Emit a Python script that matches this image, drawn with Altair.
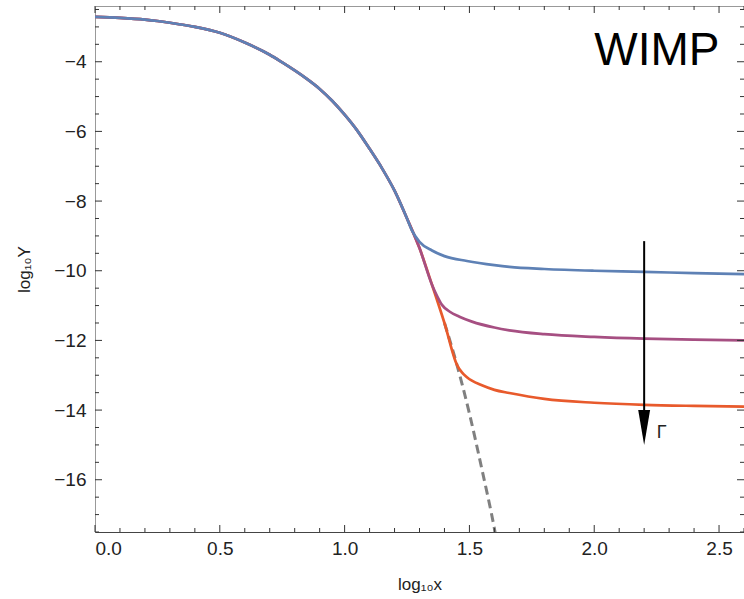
import altair as alt
import pandas as pd

# shared equilibrium part
eq_x = [0.0, 0.1, 0.2, 0.25, 0.3, 0.4, 0.5, 0.6, 0.7, 0.75, 0.8, 0.85, 0.9, 0.95,
        1.0, 1.05, 1.1, 1.15, 1.2, 1.25, 1.3, 1.35, 1.4, 1.45, 1.5, 1.55, 1.6, 1.62]
eq_y = [-2.71, -2.74, -2.79, -2.83, -2.88, -3.0, -3.17, -3.45, -3.8, -4.02, -4.25, -4.5,
        -4.78, -5.12, -5.52, -5.97, -6.5, -7.06, -7.7, -8.5, -9.35, -10.4, -11.5, -12.7,
        -14.1, -15.7, -17.4, -18.2]

# freeze-out tails
blue_x = [1.27, 1.3, 1.35, 1.4, 1.49, 1.6, 1.66, 1.8, 2.0, 2.2, 2.4, 2.6]
blue_y = [-8.85, -9.17, -9.42, -9.58, -9.72, -9.84, -9.89, -9.95, -10.0, -10.03, -10.07, -10.1]
mag_x = [1.37, 1.39, 1.42, 1.46, 1.51, 1.6, 1.66, 1.8, 2.0, 2.2, 2.4, 2.6]
mag_y = [-10.72, -10.98, -11.17, -11.32, -11.46, -11.63, -11.71, -11.82, -11.9, -11.95, -11.98, -12.0]
red_x = [1.47, 1.49, 1.55, 1.6, 1.66, 1.8, 2.0, 2.2, 2.4, 2.6]
red_y = [-12.92, -13.06, -13.29, -13.42, -13.51, -13.68, -13.79, -13.85, -13.88, -13.9]

series = ["blue", "magenta", "red"]
colors = ["#5e81b5", "#a64f82", "#e85a2c"]
cut = {"blue": 1.25, "magenta": 1.35, "red": 1.45}
tails = {"blue": (blue_x, blue_y), "magenta": (mag_x, mag_y), "red": (red_x, red_y)}

def series_df(s):
    rows = []
    for x, y in zip(eq_x, eq_y):
        if x <= cut[s]:
            rows.append({"s": s, "x": x, "y": y})
    for x, y in zip(*tails[s]):
        rows.append({"s": s, "x": x, "y": y})
    return pd.DataFrame(rows)

dash_df = pd.DataFrame({"x": [x for x in eq_x if x >= 1.4],
                        "y": [y for x, y in zip(eq_x, eq_y) if x >= 1.4]})

W, H = 649, 526
xdom = [0, 2.6]
ydom = [-17.5, -2.4]
xs = alt.Scale(domain=xdom, nice=False, zero=False)
ys = alt.Scale(domain=ydom, nice=False, zero=False)

xmaj = [0.0, 0.5, 1.0, 1.5, 2.0, 2.5]
xmin = [round(i * 0.1, 1) for i in range(27) if i % 5 != 0]
ymaj = [-16, -14, -12, -10, -8, -6, -4]
ymin = [v / 2 for v in range(-35, -4) if v % 4 != 0]

base_axes = alt.Chart(pd.DataFrame({"x": [0.0], "y": [-10.0]})).mark_point(opacity=0).encode(
    x=alt.X("x:Q", scale=xs, title="log₁₀x",
            axis=alt.Axis(values=xmaj, format=".1f", ticks=False, tickSize=0, grid=False,
                          labelPadding=7, titlePadding=18, domainColor="#444")),
    y=alt.Y("y:Q", scale=ys, title="log₁₀Y",
            axis=alt.Axis(values=ymaj, format="d", ticks=False, tickSize=0, grid=False,
                          labelPadding=9, titlePadding=20, domainColor="#999")),
)

def xticks(vals, length):
    d = pd.DataFrame({"x": vals})
    b = alt.Chart(d).mark_rule(color="#333", strokeWidth=1)
    bot = b.encode(x=alt.X("x:Q", scale=xs), y=alt.value(H), y2=alt.value(H - length))
    top = b.encode(x=alt.X("x:Q", scale=xs), y=alt.value(0), y2=alt.value(length))
    return bot + top

def yticks(vals, length):
    d = pd.DataFrame({"y": vals})
    b = alt.Chart(d).mark_rule(color="#333", strokeWidth=1)
    left = b.encode(y=alt.Y("y:Q", scale=ys), x=alt.value(0), x2=alt.value(length))
    right = b.encode(y=alt.Y("y:Q", scale=ys), x=alt.value(W), x2=alt.value(W - length))
    return left + right

dashed = alt.Chart(dash_df).mark_line(color="#808080", strokeWidth=3, strokeDash=[9, 5],
                                      clip=True, interpolate="monotone").encode(
    x=alt.X("x:Q", scale=xs), y=alt.Y("y:Q", scale=ys))

def curve(s):
    return alt.Chart(series_df(s)).mark_line(strokeWidth=2.7, clip=True,
                                             interpolate="monotone").encode(
        x=alt.X("x:Q", scale=xs),
        y=alt.Y("y:Q", scale=ys),
        color=alt.Color("s:N", scale=alt.Scale(domain=series, range=colors), legend=None),
        order=alt.Order("x:Q"),
    )

arrow_x = [2.2]
arrow_top = [-9.15]
arrow_bot = [-14.3]
head_y = [-14.5]
arr = pd.DataFrame({"x": arrow_x, "y": arrow_top, "y2": arrow_bot, "hy": head_y})
shaft = alt.Chart(arr).mark_rule(color="black", strokeWidth=2).encode(
    x=alt.X("x:Q", scale=xs), y=alt.Y("y:Q", scale=ys), y2="y2:Q")
head = alt.Chart(arr).mark_point(shape="M -0.34 -1 L 0.34 -1 L 0 1 Z", size=1225,
                                 filled=True, color="black", opacity=1).encode(
    x=alt.X("x:Q", scale=xs), y=alt.Y("hy:Q", scale=ys))

labels = pd.DataFrame({"x": [2.502, 2.25], "y": [-4.09, -14.66], "t": ["WIMP", "Γ"]})
wimp = alt.Chart(labels.iloc[[0]]).mark_text(fontSize=46, align="right", baseline="alphabetic",
                                              font="Liberation Sans", color="black").encode(
    x=alt.X("x:Q", scale=xs), y=alt.Y("y:Q", scale=ys), text="t:N")
gam = alt.Chart(labels.iloc[[1]]).mark_text(fontSize=18, align="left", baseline="middle",
                                             font="Liberation Sans", color="#222").encode(
    x=alt.X("x:Q", scale=xs), y=alt.Y("y:Q", scale=ys), text="t:N")

chart = alt.layer(
    base_axes, dashed, curve("red"), curve("magenta"), curve("blue"), shaft, head, wimp, gam,
    xticks(xmaj, 7), xticks(xmin, 4), yticks(ymaj, 7), yticks(ymin, 4),
).properties(
    width=W, height=H,
    autosize=alt.AutoSizeParams(type="none"),
    padding={"left": 95, "top": 6, "right": 0, "bottom": 67},
    background="white",
).configure_view(stroke="#999", strokeWidth=1).configure_axis(
    labelFont="Liberation Sans", titleFont="Liberation Sans", labelFontSize=19,
    titleFontSize=17, titleFontWeight="normal", labelColor="#222", titleColor="#222",
)

chart.save("out.html", embed_options={"renderer": "svg", "actions": False})
